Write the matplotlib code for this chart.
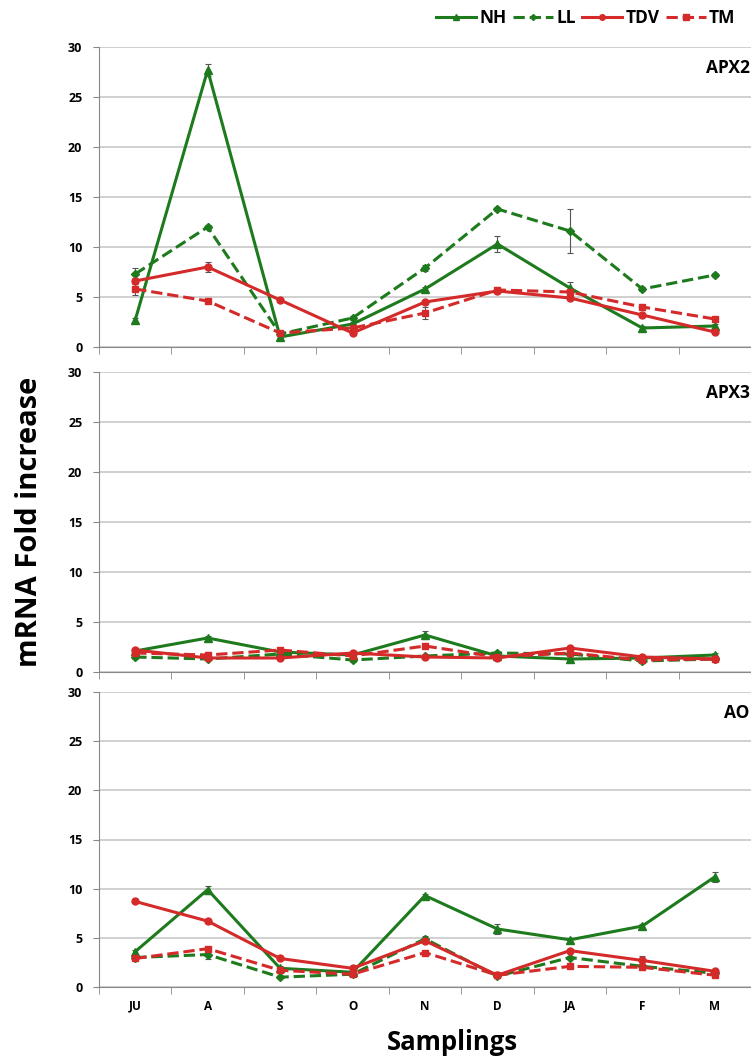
import matplotlib
matplotlib.use("Agg")
import matplotlib.pyplot as plt
from matplotlib.lines import Line2D
import numpy as np

plt.rcParams["font.family"] = ["Open Sans", "DejaVu Sans"]

months = ["JU", "A", "S", "O", "N", "D", "JA", "F", "M"]

# APX2
apx2_nh = [2.7, 27.7, 1.0, 2.3, 5.8, 10.3, 5.9, 1.9, 2.1]
apx2_nh_err = [0.2, 0.6, 0.1, 0.2, 0.2, 0.8, 0.6, 0.2, 0.2]
apx2_ll = [7.3, 12.0, 1.3, 2.9, 7.9, 13.8, 11.6, 5.8, 7.2]
apx2_ll_err = [0.6, 0.2, 0.1, 0.2, 0.3, 0.2, 2.2, 0.2, 0.2]
apx2_tdv = [6.6, 8.0, 4.7, 1.4, 4.5, 5.6, 4.9, 3.2, 1.5]
apx2_tdv_err = [0.3, 0.5, 0.2, 0.2, 0.2, 0.2, 0.2, 0.2, 0.1]
apx2_tm = [5.8, 4.6, 1.4, 1.9, 3.4, 5.7, 5.5, 4.0, 2.8]
apx2_tm_err = [0.6, 0.2, 0.1, 0.4, 0.6, 0.3, 0.3, 0.2, 0.2]

# APX3
apx3_nh = [2.1, 3.4, 2.0, 1.7, 3.7, 1.6, 1.3, 1.4, 1.7]
apx3_nh_err = [0.2, 0.2, 0.1, 0.2, 0.4, 0.3, 0.1, 0.2, 0.2]
apx3_ll = [1.5, 1.3, 1.8, 1.2, 1.6, 1.9, 1.8, 1.1, 1.3]
apx3_ll_err = [0.2, 0.1, 0.1, 0.2, 0.1, 0.2, 0.1, 0.1, 0.1]
apx3_tdv = [2.2, 1.4, 1.4, 1.9, 1.5, 1.4, 2.4, 1.5, 1.3]
apx3_tdv_err = [0.2, 0.1, 0.1, 0.2, 0.1, 0.1, 0.2, 0.2, 0.1]
apx3_tm = [1.9, 1.7, 2.2, 1.6, 2.6, 1.5, 1.9, 1.2, 1.3]
apx3_tm_err = [0.2, 0.3, 0.2, 0.2, 0.2, 0.1, 0.2, 0.2, 0.1]

# AO
ao_nh = [3.6, 9.9, 1.9, 1.5, 9.3, 5.9, 4.8, 6.2, 11.2]
ao_nh_err = [0.2, 0.4, 0.2, 0.1, 0.2, 0.5, 0.2, 0.2, 0.5]
ao_ll = [3.0, 3.3, 1.0, 1.3, 4.9, 1.1, 3.0, 2.1, 1.4]
ao_ll_err = [0.2, 0.5, 0.1, 0.1, 0.3, 0.1, 0.2, 0.2, 0.1]
ao_tdv = [8.7, 6.7, 2.9, 1.9, 4.7, 1.2, 3.7, 2.7, 1.6]
ao_tdv_err = [0.2, 0.2, 0.2, 0.1, 0.2, 0.1, 0.2, 0.5, 0.1]
ao_tm = [2.9, 3.9, 1.7, 1.3, 3.5, 1.2, 2.1, 2.0, 1.2]
ao_tm_err = [0.2, 0.2, 0.1, 0.1, 0.2, 0.1, 0.2, 0.2, 0.1]

GREEN = "#1d7a1d"
RED = "#d42a2a"
styles = {
    "NH": dict(color=GREEN, ls="-", marker="^", ms=6),
    "LL": dict(color=GREEN, ls="--", marker="D", ms=4),
    "TDV": dict(color=RED, ls="-", marker="o", ms=5),
    "TM": dict(color=RED, ls="--", marker="s", ms=5),
}

panels = [
    ("APX2", 47, 347, [(apx2_nh, apx2_nh_err), (apx2_ll, apx2_ll_err),
                       (apx2_tdv, apx2_tdv_err), (apx2_tm, apx2_tm_err)]),
    ("APX3", 372, 672, [(apx3_nh, apx3_nh_err), (apx3_ll, apx3_ll_err),
                        (apx3_tdv, apx3_tdv_err), (apx3_tm, apx3_tm_err)]),
    ("AO", 692, 987, [(ao_nh, ao_nh_err), (ao_ll, ao_ll_err),
                      (ao_tdv, ao_tdv_err), (ao_tm, ao_tm_err)]),
]

W, H = 751, 1063
fig = plt.figure(figsize=(W / 100, H / 100), dpi=100)
x = np.arange(len(months))
left, right = 99, 751

for i, (name, top, bot, series) in enumerate(panels):
    ax = fig.add_axes([left / W, 1 - bot / H, (right - left) / W, (bot - top) / H])
    for key, (vals, err) in zip(styles, series):
        st = styles[key]
        ax.errorbar(x, vals, yerr=err, color=st["color"], ls=st["ls"], lw=2.2,
                    marker=st["marker"], ms=st["ms"], ecolor="#555555",
                    elinewidth=0.8, capsize=2.5, capthick=0.8, zorder=3)
    ax.set_xlim(-0.5, 8.4)
    ax.set_ylim(0, 30)
    ax.set_yticks(range(0, 31, 5))
    ax.yaxis.grid(True, color="#c8c8c8", lw=1.2)
    ax.set_axisbelow(True)
    for s in ("top", "right"):
        ax.spines[s].set_visible(False)
    for s in ("left", "bottom"):
        ax.spines[s].set_color("#888888")
    ax.set_xticks(np.arange(-0.5, 9, 1), minor=True)
    ax.set_xticks(x)
    ax.tick_params(axis="x", which="major", length=0, pad=9)
    ax.tick_params(axis="x", which="minor", length=5, color="#888888", direction="out")
    ax.tick_params(axis="y", length=4, color="#888888", pad=8)
    if i == 2:
        ax.set_xticklabels(months, fontsize=8.5, fontweight="bold")
    else:
        ax.set_xticklabels([])
    for lab in ax.get_yticklabels():
        lab.set_fontsize(9)
        lab.set_fontweight("bold")
    ax.text(0.998, 0.93, name, transform=ax.transAxes, ha="right", va="center",
            fontsize=12.5, fontweight="bold")

handles = [Line2D([], [], color=st["color"], ls=st["ls"], lw=2.2, marker=st["marker"],
                  ms=st["ms"] - 1) for st in styles.values()]
fig.legend(handles, list(styles), loc="center right", bbox_to_anchor=(1.0, 1 - 18 / H),
           ncol=4, frameon=False, handlelength=2.3, handletextpad=0.2, columnspacing=0.35,
           prop=dict(weight="bold", size=12.5))

fig.text(30 / W, 1 - 522 / H, "mRNA Fold increase", rotation=90, ha="center",
         va="center", fontsize=21, fontweight="bold")
fig.text(452 / W, 1 - 1042 / H, "Samplings", ha="center", va="center",
         fontsize=18.5, fontweight="bold")

fig.savefig("out.png", dpi=100)
